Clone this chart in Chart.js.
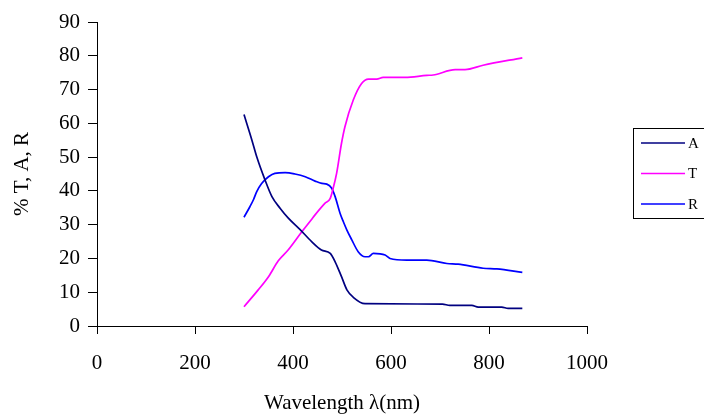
<!DOCTYPE html>
<html>
<head>
<meta charset="utf-8">
<script src="https://cdn.jsdelivr.net/npm/chart.js@4/dist/chart.umd.min.js"></script>
<style>
html,body{margin:0;padding:0;background:#fff;}
#wrap{width:704px;height:416px;}
</style>
</head>
<body>
<div id="wrap"><canvas id="c" width="704" height="416"></canvas></div>
<script>
// Series A (absorbance)
const aWavelength = [300, 316, 326, 343, 357, 374, 390, 414, 438, 458, 476, 486, 499, 510, 523, 547, 705, 720, 765, 778, 826, 839, 868];
const aValues     = [62.6, 55.1, 50.1, 43.2, 38.3, 34.8, 32.0, 28.6, 25.0, 22.5, 21.5, 19.0, 14.6, 10.7, 8.5, 6.6, 6.5, 6.1, 6.1, 5.6, 5.6, 5.2, 5.2];
// Series T (transmittance)
const tWavelength = [300, 329, 350, 370, 390, 418, 437, 445, 465, 476, 482, 489, 499, 506, 523, 540, 554, 571, 584, 629, 673, 686, 731, 751, 788, 868];
const tValues     = [5.7, 10.7, 14.6, 19.3, 22.5, 27.9, 31.4, 32.9, 36.3, 37.8, 40.8, 45.2, 54.1, 59.0, 66.9, 71.8, 73.1, 73.1, 73.6, 73.6, 74.2, 74.3, 75.9, 75.9, 77.2, 79.4];
// Series R (reflectance)
const rWavelength = [300, 312, 319, 326, 336, 350, 363, 384, 404, 425, 445, 459, 469, 479, 486, 496, 503, 510, 520, 533, 547, 554, 564, 588, 598, 632, 673, 714, 737, 788, 816, 868];
const rValues     = [32.2, 35.3, 37.3, 39.8, 42.2, 44.2, 45.2, 45.4, 45.0, 44.2, 42.9, 42.2, 42.0, 40.8, 38.3, 33.4, 30.8, 28.4, 25.5, 22.0, 20.5, 20.5, 21.5, 21.0, 20.0, 19.5, 19.5, 18.5, 18.3, 17.1, 16.9, 15.9];

const seriesLabels = ['A', 'T', 'R'];
const seriesColors = ['#000080', '#FF00FF', '#0000FF'];
const xTitle = 'Wavelength λ(nm)';
const yTitle = '% T, A, R';

function pts(xs, ys){ return xs.map((x,i)=>({x:x, y:ys[i]})); }

const serif = "'Liberation Serif', 'Times New Roman', serif";

const legendBox = {
  id: 'legendBox',
  afterDraw(chart){
    const ctx = chart.ctx;
    const ca = chart.chartArea;
    const left = ca.right + 46, top = ca.top + 106, w = 90, h = 90;
    ctx.save();
    ctx.strokeStyle = '#000';
    ctx.lineWidth = 1;
    ctx.strokeRect(Math.round(left)+0.5, Math.round(top)+0.5, w, h);
    ctx.font = "15px " + serif;
    ctx.textBaseline = 'middle';
    ctx.fillStyle = '#000';
    chart.data.datasets.forEach((ds, i) => {
      const y = top + 15 + i*30.5;
      ctx.strokeStyle = ds.borderColor;
      ctx.lineWidth = 1.5;
      ctx.beginPath();
      ctx.moveTo(left + 8, y);
      ctx.lineTo(left + 52, y);
      ctx.stroke();
      ctx.fillText(ds.label, left + 55, y + 1);
    });
    ctx.restore();
  }
};

new Chart(document.getElementById('c'), {
  type: 'scatter',
  data: {
    datasets: [
      {label: seriesLabels[0], data: pts(aWavelength, aValues), borderColor: seriesColors[0]},
      {label: seriesLabels[1], data: pts(tWavelength, tValues), borderColor: seriesColors[1]},
      {label: seriesLabels[2], data: pts(rWavelength, rValues), borderColor: seriesColors[2]}
    ].map(d => Object.assign(d, {showLine: true, pointRadius: 0, borderWidth: 1.7, cubicInterpolationMode: 'monotone', fill: false}))
  },
  options: {
    responsive: false,
    animation: false,
    devicePixelRatio: 1,
    layout: {padding: {top: 22, right: 117, left: 0, bottom: 0}},
    plugins: {legend: {display: false}, tooltip: {enabled: false}},
    scales: {
      x: {
        type: 'linear', min: 0, max: 1000,
        ticks: {stepSize: 200, color: '#000', font: {family: serif, size: 21}, padding: 17, maxRotation: 0,
                callback: v => String(v)},
        grid: {display: true, drawOnChartArea: false, drawTicks: true, tickLength: 8, color: '#000', lineWidth: 1},
        border: {display: true, color: '#000', width: 1},
        title: {display: true, text: xTitle, color: '#000', font: {family: serif, size: 21}, padding: {top: 4, bottom: 0}},
        afterFit(s){ s.height = 90; }
      },
      y: {
        type: 'linear', min: 0, max: 90,
        ticks: {stepSize: 10, color: '#000', font: {family: serif, size: 21}, padding: 8,
                callback: v => String(v)},
        grid: {display: true, drawOnChartArea: false, drawTicks: true, tickLength: 9, color: '#000', lineWidth: 1},
        border: {display: true, color: '#000', width: 1},
        title: {display: true, text: yTitle, color: '#000', font: {family: serif, size: 21}, padding: {top: 10, bottom: 0}},
        afterFit(s){ s.width = 97; }
      }
    }
  },
  plugins: [legendBox]
});
</script>
</body>
</html>
